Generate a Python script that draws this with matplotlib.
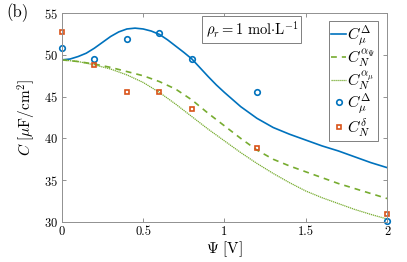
import numpy as np
import matplotlib
matplotlib.use("Agg")
import matplotlib.pyplot as plt

plt.rcParams['font.family'] = 'serif'
plt.rcParams['font.serif'] = ['cmr10', 'DejaVu Serif']
plt.rcParams['mathtext.fontset'] = 'cm'
plt.rcParams['axes.unicode_minus'] = False
plt.rcParams['axes.formatter.use_mathtext'] = True

## data
psi_blue = [0.0, 0.05, 0.1, 0.15, 0.2, 0.25, 0.3, 0.35, 0.4, 0.45, 0.5,
            0.55, 0.6, 0.65, 0.7, 0.75, 0.8, 0.85, 0.9, 0.95, 1.0,
            1.1, 1.2, 1.3, 1.4, 1.5, 1.6, 1.7, 1.8, 1.9, 2.0]
c_mu_delta = [49.4, 49.5, 49.8, 50.2, 50.8, 51.5, 52.2, 52.75, 53.1, 53.2, 53.1,
              52.85, 52.45, 51.8, 51.05, 50.3, 49.5, 48.45, 47.4, 46.4, 45.5,
              43.8, 42.4, 41.3, 40.5, 39.8, 39.1, 38.5, 37.8, 37.1, 36.5]

psi_line = [0.0, 0.1, 0.2, 0.3, 0.4, 0.5, 0.6, 0.7, 0.8, 0.9, 1.0,
            1.1, 1.2, 1.3, 1.4, 1.5, 1.6, 1.7, 1.8, 1.9, 2.0]
c_n_apsi = [49.4, 49.2, 48.9, 48.5, 48.0, 47.5, 46.8, 45.9, 44.6, 43.0, 41.5,
            40.0, 38.6, 37.5, 36.7, 36.0, 35.3, 34.6, 34.0, 33.4, 32.8]
c_n_amu = [49.4, 49.2, 48.8, 48.3, 47.6, 46.7, 45.5, 44.1, 42.6, 41.1, 39.7,
           38.3, 37.0, 35.8, 34.7, 33.7, 32.9, 32.2, 31.5, 30.9, 30.35]

psi_pts = [0.0, 0.2, 0.4, 0.6, 0.8, 1.2, 2.0]
pts_mu_delta = [50.8, 49.5, 51.9, 52.6, 49.5, 45.6, 30.1]
pts_n_delta = [52.7, 48.8, 45.5, 45.6, 43.5, 38.8, 31.0]

xticks = [0, 0.5, 1, 1.5, 2]
xticklabels = ['0', '0.5', '1', '1.5', '2']
yticks = [30, 35, 40, 45, 50, 55]

blue = '#0072BD'
green = '#77AC30'
orange = '#D95319'

fig = plt.figure(figsize=(4.07, 2.62), dpi=100)
ax = fig.add_axes([0.152, 0.153, 0.799, 0.797])

ax.plot(psi_blue, c_mu_delta, color=blue, lw=1.2, label=r'$C_\mu^\Delta$')
ax.plot(psi_line, c_n_apsi, color=green, lw=1.2, ls=(0, (3.5, 3)), label=r'$C_N^{\alpha_\Psi}$')
ax.plot(psi_line, c_n_amu, color=green, lw=0.9, ls=(0, (1, 0.6)), label=r'$C_N^{\alpha_\mu}$')
ax.plot(psi_pts, pts_mu_delta, ls='none', marker='o', ms=4, mfc='none', mec=blue,
        mew=1.2, label=r'$C_\mu^\Delta$', clip_on=False)
ax.plot(psi_pts, pts_n_delta, ls='none', marker='s', ms=3.5, mfc='none', mec=orange,
        mew=1.2, label=r'$C_N^\delta$', clip_on=False)

ax.set_xlim(0, 2)
ax.set_ylim(30, 55)
ax.set_xticks(xticks)
ax.set_xticklabels(xticklabels)
ax.set_yticks(yticks)
ax.tick_params(direction='in', top=True, right=True, length=3, width=0.6,
               color='#808080', labelsize=9, pad=3)
for s in ax.spines.values():
    s.set_color('#909090')
    s.set_linewidth(0.7)

ax.set_xlabel(r'$\Psi\ [\mathrm{V}]$', fontsize=11, labelpad=1)
ax.set_ylabel(r'$C\ [\mu\mathrm{F/cm}^2]$', fontsize=11, labelpad=4)

leg = ax.legend(loc='upper right', bbox_to_anchor=(0.972, 0.962), fontsize=11.5,
                handlelength=0.9, handletextpad=0.1, labelspacing=0.0,
                borderpad=0.15, borderaxespad=0, fancybox=False, framealpha=1)
leg.get_frame().set_edgecolor('#808080')
leg.get_frame().set_linewidth(0.7)

ax.text(0.442, 0.92, r'$\rho_r = 1\ \mathrm{mol}{\cdot}\mathrm{L}^{-1}$', transform=ax.transAxes,
        fontsize=10.5, va='center', ha='left',
        bbox=dict(boxstyle='square,pad=0.22', fc='white', ec='#808080', lw=0.7))

fig.text(0.015, 0.935, '(b)', fontsize=12)

fig.savefig('out.png', dpi=100)
